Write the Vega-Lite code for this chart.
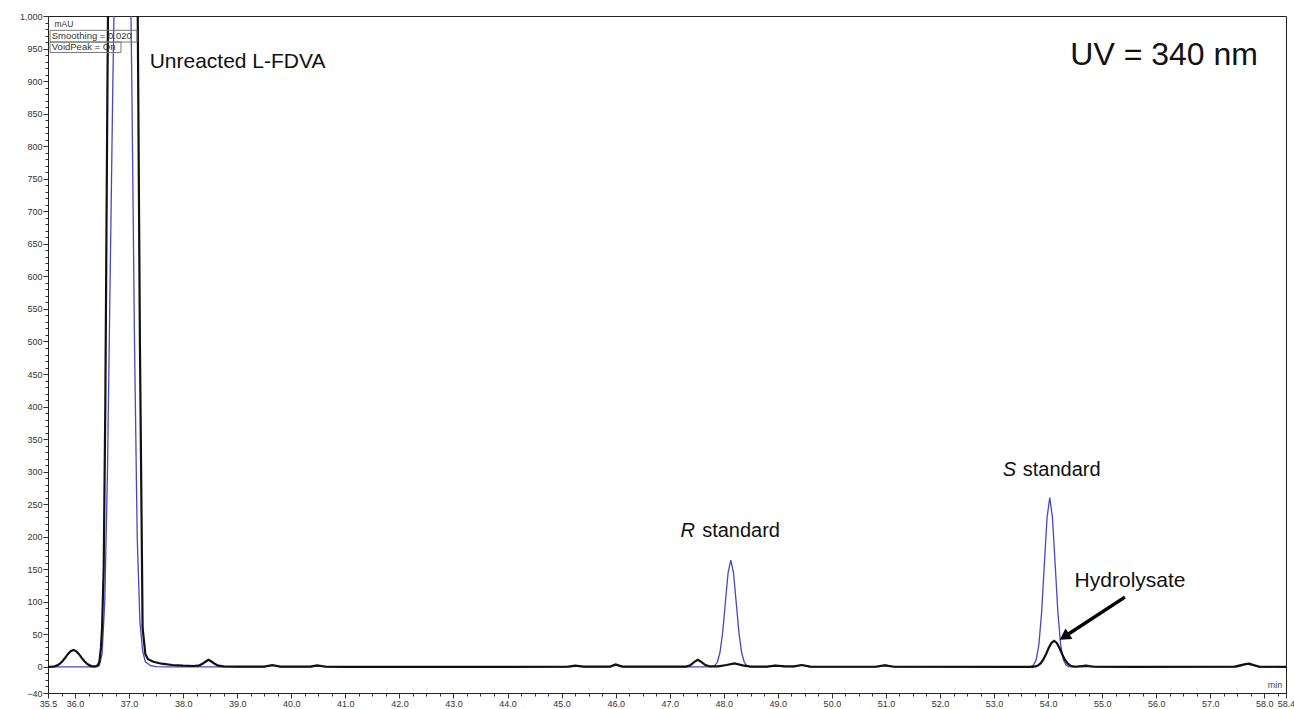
{
  "$schema": "https://vega.github.io/schema/vega-lite/v6.json",
  "width": 1238,
  "height": 677,
  "autosize": {"type": "none"},
  "padding": {"left": 48, "top": 16, "right": 8, "bottom": 16},
  "background": "white",
  "config": {"view": {"stroke": "#222", "strokeWidth": 1}, "font": "Liberation Sans"},
  "resolve": {"axis": {"x": "independent", "y": "independent"}},
  "datasets": {
    "trace": [
      {"t":35.5,"v":0,"s":"Standard"},{"t":36.0,"v":0,"s":"Standard"},{"t":36.4,"v":0,"s":"Standard"},{"t":36.45,"v":2,"s":"Standard"},{"t":36.5,"v":20,"s":"Standard"},{"t":36.55,"v":100,"s":"Standard"},{"t":36.6,"v":300,"s":"Standard"},{"t":36.65,"v":600,"s":"Standard"},{"t":36.7,"v":900,"s":"Standard"},{"t":36.73,"v":1050,"s":"Standard"},{"t":36.8,"v":1500,"s":"Standard"},{"t":36.88,"v":1700,"s":"Standard"},{"t":36.95,"v":1500,"s":"Standard"},{"t":37.02,"v":1100,"s":"Standard"},{"t":37.05,"v":900,"s":"Standard"},{"t":37.1,"v":500,"s":"Standard"},{"t":37.15,"v":200,"s":"Standard"},{"t":37.2,"v":70,"s":"Standard"},{"t":37.25,"v":25,"s":"Standard"},{"t":37.3,"v":8,"s":"Standard"},{"t":37.4,"v":2,"s":"Standard"},{"t":37.5,"v":0.5,"s":"Standard"},{"t":37.7,"v":0,"s":"Standard"},{"t":39.5,"v":0,"s":"Standard"},{"t":39.65,"v":2,"s":"Standard"},{"t":39.8,"v":0,"s":"Standard"},{"t":40.35,"v":0,"s":"Standard"},{"t":40.5,"v":1.5,"s":"Standard"},{"t":40.65,"v":0,"s":"Standard"},{"t":45.15,"v":0,"s":"Standard"},{"t":45.3,"v":1.5,"s":"Standard"},{"t":45.45,"v":0,"s":"Standard"},{"t":45.9,"v":0,"s":"Standard"},{"t":46.02,"v":3,"s":"Standard"},{"t":46.15,"v":0,"s":"Standard"},{"t":47.7,"v":0,"s":"Standard"},{"t":47.78,"v":0.4,"s":"Standard"},{"t":47.83,"v":1.8,"s":"Standard"},{"t":47.88,"v":7.2,"s":"Standard"},{"t":47.93,"v":22.2,"s":"Standard"},{"t":47.98,"v":53.2,"s":"Standard"},{"t":48.03,"v":99.5,"s":"Standard"},{"t":48.08,"v":144.7,"s":"Standard"},{"t":48.13,"v":164,"s":"Standard"},{"t":48.18,"v":144.7,"s":"Standard"},{"t":48.23,"v":99.5,"s":"Standard"},{"t":48.28,"v":53.2,"s":"Standard"},{"t":48.33,"v":22.2,"s":"Standard"},{"t":48.38,"v":7.2,"s":"Standard"},{"t":48.43,"v":1.8,"s":"Standard"},{"t":48.48,"v":0.4,"s":"Standard"},{"t":48.6,"v":0,"s":"Standard"},{"t":48.8,"v":0,"s":"Standard"},{"t":48.95,"v":2.5,"s":"Standard"},{"t":49.1,"v":0.5,"s":"Standard"},{"t":49.3,"v":0.5,"s":"Standard"},{"t":49.45,"v":3,"s":"Standard"},{"t":49.6,"v":0,"s":"Standard"},{"t":50.85,"v":0,"s":"Standard"},{"t":51.0,"v":3,"s":"Standard"},{"t":51.15,"v":0,"s":"Standard"},{"t":53.6,"v":0,"s":"Standard"},{"t":53.68,"v":0.6,"s":"Standard"},{"t":53.73,"v":2.9,"s":"Standard"},{"t":53.78,"v":11.4,"s":"Standard"},{"t":53.83,"v":35.2,"s":"Standard"},{"t":53.88,"v":84.4,"s":"Standard"},{"t":53.93,"v":157.7,"s":"Standard"},{"t":53.98,"v":229.4,"s":"Standard"},{"t":54.03,"v":260,"s":"Standard"},{"t":54.08,"v":229.4,"s":"Standard"},{"t":54.13,"v":157.7,"s":"Standard"},{"t":54.18,"v":84.4,"s":"Standard"},{"t":54.23,"v":35.2,"s":"Standard"},{"t":54.28,"v":11.4,"s":"Standard"},{"t":54.33,"v":2.9,"s":"Standard"},{"t":54.38,"v":0.6,"s":"Standard"},{"t":54.45,"v":0,"s":"Standard"},{"t":54.6,"v":1.5,"s":"Standard"},{"t":54.7,"v":3,"s":"Standard"},{"t":54.85,"v":0.5,"s":"Standard"},{"t":55.0,"v":0,"s":"Standard"},{"t":57.5,"v":0,"s":"Standard"},{"t":57.6,"v":2.5,"s":"Standard"},{"t":57.68,"v":4.5,"s":"Standard"},{"t":57.78,"v":2.5,"s":"Standard"},{"t":57.9,"v":0,"s":"Standard"},{"t":58.4,"v":0,"s":"Standard"},
      {"t":35.5,"v":0,"s":"Hydrolysate"},{"t":35.57,"v":0.4,"s":"Hydrolysate"},{"t":35.62,"v":1.0,"s":"Hydrolysate"},{"t":35.67,"v":2.4,"s":"Hydrolysate"},{"t":35.72,"v":5,"s":"Hydrolysate"},{"t":35.77,"v":9.1,"s":"Hydrolysate"},{"t":35.82,"v":14.4,"s":"Hydrolysate"},{"t":35.87,"v":20,"s":"Hydrolysate"},{"t":35.92,"v":24.3,"s":"Hydrolysate"},{"t":35.97,"v":26,"s":"Hydrolysate"},{"t":36.02,"v":24.3,"s":"Hydrolysate"},{"t":36.07,"v":20,"s":"Hydrolysate"},{"t":36.12,"v":14.4,"s":"Hydrolysate"},{"t":36.17,"v":9.1,"s":"Hydrolysate"},{"t":36.22,"v":5,"s":"Hydrolysate"},{"t":36.27,"v":2.4,"s":"Hydrolysate"},{"t":36.32,"v":1.0,"s":"Hydrolysate"},{"t":36.37,"v":0.8,"s":"Hydrolysate"},{"t":36.42,"v":2.5,"s":"Hydrolysate"},{"t":36.45,"v":8,"s":"Hydrolysate"},{"t":36.48,"v":30,"s":"Hydrolysate"},{"t":36.5,"v":60,"s":"Hydrolysate"},{"t":36.53,"v":150,"s":"Hydrolysate"},{"t":36.56,"v":400,"s":"Hydrolysate"},{"t":36.6,"v":900,"s":"Hydrolysate"},{"t":36.63,"v":1200,"s":"Hydrolysate"},{"t":36.7,"v":2000,"s":"Hydrolysate"},{"t":36.8,"v":2500,"s":"Hydrolysate"},{"t":36.9,"v":2600,"s":"Hydrolysate"},{"t":37.0,"v":2300,"s":"Hydrolysate"},{"t":37.08,"v":1600,"s":"Hydrolysate"},{"t":37.12,"v":1250,"s":"Hydrolysate"},{"t":37.16,"v":1000,"s":"Hydrolysate"},{"t":37.2,"v":500,"s":"Hydrolysate"},{"t":37.25,"v":60,"s":"Hydrolysate"},{"t":37.3,"v":20,"s":"Hydrolysate"},{"t":37.35,"v":12,"s":"Hydrolysate"},{"t":37.45,"v":8,"s":"Hydrolysate"},{"t":37.6,"v":5,"s":"Hydrolysate"},{"t":37.8,"v":3,"s":"Hydrolysate"},{"t":38.0,"v":2,"s":"Hydrolysate"},{"t":38.2,"v":1.5,"s":"Hydrolysate"},{"t":38.3,"v":2.5,"s":"Hydrolysate"},{"t":38.35,"v":4.5,"s":"Hydrolysate"},{"t":38.41,"v":8,"s":"Hydrolysate"},{"t":38.47,"v":11,"s":"Hydrolysate"},{"t":38.53,"v":8,"s":"Hydrolysate"},{"t":38.59,"v":4.5,"s":"Hydrolysate"},{"t":38.65,"v":2,"s":"Hydrolysate"},{"t":38.75,"v":1,"s":"Hydrolysate"},{"t":39.0,"v":0.5,"s":"Hydrolysate"},{"t":39.5,"v":0.5,"s":"Hydrolysate"},{"t":39.65,"v":3,"s":"Hydrolysate"},{"t":39.8,"v":0.5,"s":"Hydrolysate"},{"t":40.35,"v":0.5,"s":"Hydrolysate"},{"t":40.48,"v":2.5,"s":"Hydrolysate"},{"t":40.65,"v":0.3,"s":"Hydrolysate"},{"t":41.0,"v":0,"s":"Hydrolysate"},{"t":45.1,"v":0.3,"s":"Hydrolysate"},{"t":45.25,"v":2,"s":"Hydrolysate"},{"t":45.4,"v":0.5,"s":"Hydrolysate"},{"t":45.9,"v":0.5,"s":"Hydrolysate"},{"t":46.0,"v":4,"s":"Hydrolysate"},{"t":46.12,"v":0.5,"s":"Hydrolysate"},{"t":47.3,"v":0.5,"s":"Hydrolysate"},{"t":47.38,"v":2.5,"s":"Hydrolysate"},{"t":47.45,"v":7.5,"s":"Hydrolysate"},{"t":47.52,"v":11,"s":"Hydrolysate"},{"t":47.59,"v":7.5,"s":"Hydrolysate"},{"t":47.66,"v":3,"s":"Hydrolysate"},{"t":47.75,"v":0.8,"s":"Hydrolysate"},{"t":47.9,"v":0.8,"s":"Hydrolysate"},{"t":48.05,"v":3,"s":"Hydrolysate"},{"t":48.2,"v":5.5,"s":"Hydrolysate"},{"t":48.35,"v":2.5,"s":"Hydrolysate"},{"t":48.5,"v":0.5,"s":"Hydrolysate"},{"t":48.8,"v":0.5,"s":"Hydrolysate"},{"t":48.95,"v":2,"s":"Hydrolysate"},{"t":49.15,"v":0.8,"s":"Hydrolysate"},{"t":49.3,"v":1,"s":"Hydrolysate"},{"t":49.44,"v":3,"s":"Hydrolysate"},{"t":49.6,"v":0.5,"s":"Hydrolysate"},{"t":50.8,"v":0.3,"s":"Hydrolysate"},{"t":50.97,"v":2.5,"s":"Hydrolysate"},{"t":51.15,"v":0.3,"s":"Hydrolysate"},{"t":53.71,"v":0.2,"s":"Hydrolysate"},{"t":53.76,"v":0.8,"s":"Hydrolysate"},{"t":53.81,"v":2.2,"s":"Hydrolysate"},{"t":53.86,"v":5.4,"s":"Hydrolysate"},{"t":53.91,"v":11.1,"s":"Hydrolysate"},{"t":53.96,"v":19.5,"s":"Hydrolysate"},{"t":54.01,"v":29,"s":"Hydrolysate"},{"t":54.06,"v":36.9,"s":"Hydrolysate"},{"t":54.11,"v":40,"s":"Hydrolysate"},{"t":54.16,"v":36.9,"s":"Hydrolysate"},{"t":54.21,"v":29,"s":"Hydrolysate"},{"t":54.26,"v":19.5,"s":"Hydrolysate"},{"t":54.31,"v":11.1,"s":"Hydrolysate"},{"t":54.36,"v":5.4,"s":"Hydrolysate"},{"t":54.41,"v":2.2,"s":"Hydrolysate"},{"t":54.46,"v":0.8,"s":"Hydrolysate"},{"t":54.51,"v":0.3,"s":"Hydrolysate"},{"t":54.6,"v":1,"s":"Hydrolysate"},{"t":54.7,"v":1.5,"s":"Hydrolysate"},{"t":54.85,"v":0.3,"s":"Hydrolysate"},{"t":55.5,"v":0,"s":"Hydrolysate"},{"t":57.45,"v":0.5,"s":"Hydrolysate"},{"t":57.55,"v":2.5,"s":"Hydrolysate"},{"t":57.65,"v":4.5,"s":"Hydrolysate"},{"t":57.72,"v":5,"s":"Hydrolysate"},{"t":57.8,"v":3,"s":"Hydrolysate"},{"t":57.9,"v":0.5,"s":"Hydrolysate"},{"t":58.4,"v":0,"s":"Hydrolysate"}
    ],
    "labels": [
      {"t":37.38,"v":920,"label":"Unreacted L-FDVA","size":21},
      {"t":54.41,"v":925,"label":"UV = 340 nm","size":32},
      {"t":47.6,"v":199,"label":"standard","size":20},
      {"t":53.53,"v":293,"label":"standard","size":20},
      {"t":54.49,"v":123,"label":"Hydrolysate","size":21}
    ],
    "italics": [
      {"t":47.2,"v":199,"label":"R"},
      {"t":53.16,"v":293,"label":"S"}
    ],
    "boxes": [
      {"t":35.537,"t2":37.146,"v":978,"v2":960},
      {"t":35.537,"t2":36.85,"v":960,"v2":944}
    ],
    "boxtext": [
      {"t":35.62,"v":983,"label":"mAU","size":8.5},
      {"t":35.57,"v":965,"label":"Smoothing = 0.020","size":9.5},
      {"t":35.57,"v":948,"label":"VoidPeak = On","size":9.5}
    ],
    "arrow": [
      {"t":55.42,"v":107.3,"t2":54.32,"v2":47.6}
    ],
    "head": [
      {"t":54.3,"v":46.5}
    ],
    "unit": [
      {"t":58.33,"v":-33,"label":"min"}
    ]
  },
  "layer": [
    {
      "data": {"name": "trace"},
      "transform": [{"filter": "datum.s === 'Standard'"}],
      "mark": {"type": "line", "clip": true, "color": "#4646cc", "strokeWidth": 1.3},
      "encoding": {
        "x": {
          "field": "t", "type": "quantitative",
          "scale": {"domain": [35.5, 58.4], "nice": false, "zero": false},
          "axis": {
            "orient": "bottom", "title": null,
            "values": [35.5,36,37,38,39,40,41,42,43,44,45,46,47,48,49,50,51,52,53,54,55,56,57,58,58.4],
            "labelExpr": "format(datum.value, '.1f')", "tickSize": 5,
            "labelFontSize": 9, "labelColor": "#333", "labelFont": "Liberation Sans",
            "labelFlush": false, "labelOverlap": false, "labelPadding": 1,
            "domainColor": "#222", "tickColor": "#333", "grid": false
          }
        },
        "y": {
          "field": "v", "type": "quantitative",
          "scale": {"domain": [-40, 1000], "nice": false, "zero": false},
          "axis": {
            "orient": "left", "title": null,
            "values": [-40,0,50,100,150,200,250,300,350,400,450,500,550,600,650,700,750,800,850,900,950,1000],
            "labelExpr": "format(datum.value, ',.0f')", "tickSize": 5,
            "labelFontSize": 9, "labelColor": "#333", "labelFont": "Liberation Sans",
            "labelFlush": false, "labelOverlap": false, "labelPadding": 1,
            "domainColor": "#222", "tickColor": "#333", "grid": false
          }
        }
      }
    },
    {
      "data": {"name": "trace"},
      "transform": [{"filter": "datum.s === 'Hydrolysate'"}],
      "mark": {"type": "line", "clip": true, "color": "#111111", "strokeWidth": 2.2},
      "encoding": {
        "x": {"field": "t", "type": "quantitative",
          "axis": {
            "orient": "bottom", "title": null, "labels": false, "domain": false, "grid": false,
            "tickSize": 3, "tickColor": "#333",
            "values": [35.75,36.25,36.5,36.75,37.25,37.5,37.75,38.25,38.5,38.75,39.25,39.5,39.75,40.25,40.5,40.75,41.25,41.5,41.75,42.25,42.5,42.75,43.25,43.5,43.75,44.25,44.5,44.75,45.25,45.5,45.75,46.25,46.5,46.75,47.25,47.5,47.75,48.25,48.5,48.75,49.25,49.5,49.75,50.25,50.5,50.75,51.25,51.5,51.75,52.25,52.5,52.75,53.25,53.5,53.75,54.25,54.5,54.75,55.25,55.5,55.75,56.25,56.5,56.75,57.25,57.5,57.75,58.25]
          }
        },
        "y": {"field": "v", "type": "quantitative",
          "axis": {
            "orient": "left", "title": null, "labels": false, "domain": false, "grid": false,
            "tickSize": 3, "tickColor": "#333",
            "values": [-30,-20,-10,10,20,30,40,60,70,80,90,110,120,130,140,160,170,180,190,210,220,230,240,260,270,280,290,310,320,330,340,360,370,380,390,410,420,430,440,460,470,480,490,510,520,530,540,560,570,580,590,610,620,630,640,660,670,680,690,710,720,730,740,760,770,780,790,810,820,830,840,860,870,880,890,910,920,930,940,960,970,980,990]
          }
        }
      }
    },
    {
      "data": {"name": "boxes"},
      "mark": {"type": "rect", "fill": "white", "fillOpacity": 0.0, "stroke": "#777", "strokeWidth": 1},
      "encoding": {
        "x": {"field": "t", "type": "quantitative", "axis": null},
        "x2": {"field": "t2"},
        "y": {"field": "v", "type": "quantitative", "axis": null},
        "y2": {"field": "v2"}
      }
    },
    {
      "data": {"name": "boxtext"},
      "mark": {"type": "text", "align": "left", "baseline": "alphabetic", "color": "#333", "font": "Liberation Sans"},
      "encoding": {
        "x": {"field": "t", "type": "quantitative", "axis": null},
        "y": {"field": "v", "type": "quantitative", "axis": null},
        "text": {"field": "label"},
        "size": {"field": "size", "type": "quantitative", "scale": null}
      }
    },
    {
      "data": {"name": "labels"},
      "mark": {"type": "text", "align": "left", "baseline": "alphabetic", "color": "#111", "font": "Liberation Sans"},
      "encoding": {
        "x": {"field": "t", "type": "quantitative", "axis": null},
        "y": {"field": "v", "type": "quantitative", "axis": null},
        "text": {"field": "label"},
        "size": {"field": "size", "type": "quantitative", "scale": null}
      }
    },
    {
      "data": {"name": "italics"},
      "mark": {"type": "text", "align": "left", "baseline": "alphabetic", "color": "#111", "font": "Liberation Sans", "fontStyle": "italic", "fontSize": 20},
      "encoding": {
        "x": {"field": "t", "type": "quantitative", "axis": null},
        "y": {"field": "v", "type": "quantitative", "axis": null},
        "text": {"field": "label"}
      }
    },
    {
      "data": {"name": "arrow"},
      "mark": {"type": "rule", "color": "#000", "strokeWidth": 3.5},
      "encoding": {
        "x": {"field": "t", "type": "quantitative", "axis": null},
        "x2": {"field": "t2"},
        "y": {"field": "v", "type": "quantitative", "axis": null},
        "y2": {"field": "v2"}
      }
    },
    {
      "data": {"name": "head"},
      "mark": {"type": "point", "shape": "triangle-up", "filled": true, "color": "#000", "size": 160, "angle": 237, "opacity": 1},
      "encoding": {
        "x": {"field": "t", "type": "quantitative", "axis": null},
        "y": {"field": "v", "type": "quantitative", "axis": null}
      }
    },
    {
      "data": {"name": "unit"},
      "mark": {"type": "text", "align": "right", "baseline": "alphabetic", "color": "#444", "fontSize": 9, "font": "Liberation Sans"},
      "encoding": {
        "x": {"field": "t", "type": "quantitative", "axis": null},
        "y": {"field": "v", "type": "quantitative", "axis": null},
        "text": {"field": "label"}
      }
    }
  ]
}
